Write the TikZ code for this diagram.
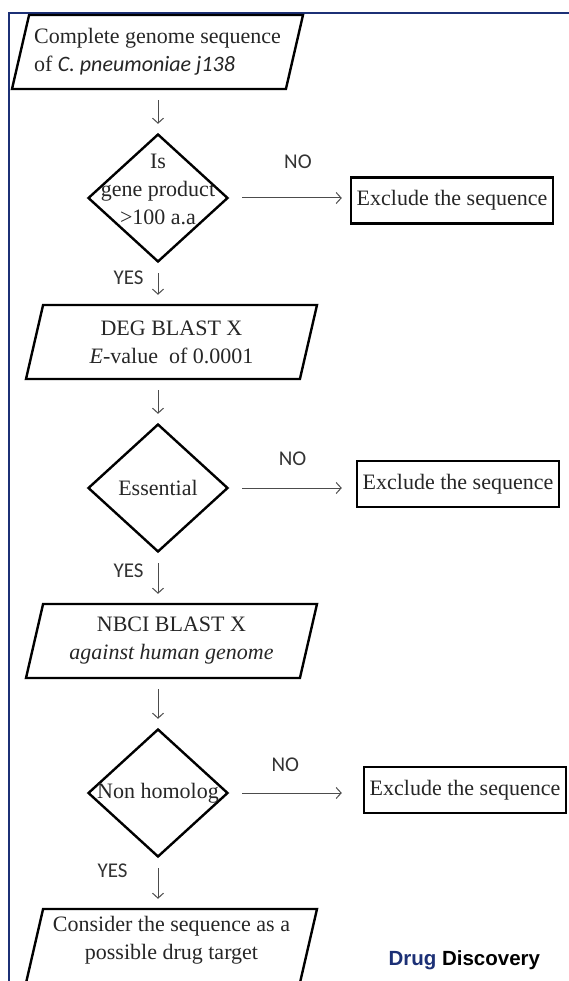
\documentclass[tikz,border=0pt]{standalone}
\usepackage{fontspec}
\setmainfont{Liberation Serif}
\newfontfamily\calibri{Carlito}
\newfontfamily\arial{Liberation Sans}
\usetikzlibrary{shapes.geometric,arrows.meta}
\definecolor{navy}{RGB}{28,48,118}
\tikzset{
  io/.style={trapezium, trapezium left angle=77, trapezium right angle=103,
    trapezium stretches body=true, draw, line width=2.4pt,
    minimum width=291pt, text height=35pt, text depth=35pt, inner sep=2pt},
  dec/.style={diamond, draw, line width=2.4pt, minimum width=140pt,
    minimum height=128pt, inner sep=2pt},
  excl/.style={rectangle, draw, line width=2.4pt, minimum width=202pt,
    minimum height=46pt, inner sep=0pt, text=black!85,
    font=\fontsize{22}{28}\selectfont},
  txt/.style={align=center, text=black!85, font=\fontsize{22}{28}\selectfont},
  flow/.style={->, draw=black!70, line width=1pt, shorten <=10pt, shorten >=9pt},
  ans/.style={inner sep=1pt, text=black!80, font=\calibri\fontsize{21}{24}\selectfont},
}
\begin{document}
\begin{tikzpicture}[x=1pt, y=-1pt, >={Straight Barb[length=5pt,width=11pt]}]
\clip (0,0) rectangle (569,981);
\draw[navy, line width=2.5pt] (569,13) -- (9,13) -- (9,981);

% main column
\node[io, label={[txt, align=left]center:Complete genome sequence\\of {\calibri\itshape C. pneumoniae j138}}] (p1) at (157.5,52) {};
\node[dec, label={[txt, yshift=9pt]center:Is\\gene product\\>100 a.a}] (d1) at (158,198) {};
\node[io, label={[txt]center:DEG BLAST X\\\textit{E}-value\ \ of 0.0001}] (p2) at (171.5,342) {};
\node[dec, label={[txt]center:Essential}] (d2) at (158,488) {};
\node[io, label={[txt]center:NBCI BLAST X\\\textit{against human genome}}] (p3) at (171.5,641) {};
\node[dec, label={[txt]center:Non homolog}] (d3) at (158,793) {};
\node[io, label={[txt, yshift=6pt]center:Consider the sequence as a\\possible drug target}] (p4) at (171.5,946) {};

% exclusions
\node[excl] (x1) at (452,200.5) {Exclude the sequence};
\node[excl] (x2) at (458,484) {Exclude the sequence};
\node[excl] (x3) at (465,790) {Exclude the sequence};

\draw[flow] (p1.south -| d1.north) -- (d1.north);
\draw[flow] (d1.south) -- node[ans, left=13pt, pos=.35] (y1) {YES} (d1.south |- p2.north);
\draw[flow] (p2.south -| d2.north) -- (d2.north);
\draw[flow] (d2.south) -- node[ans, left=13pt, pos=.35] (y2) {YES} (d2.south |- p3.north);
\draw[flow] (p3.south -| d3.north) -- (d3.north);
\draw[flow] (d3.south) -- node[ans, left=29pt, pos=.25] (y3) {YES} (d3.south |- p4.north);

\draw[flow, shorten <=13pt, shorten >=8pt] (d1.east) -- node[ans, above=28pt, pos=.57] (n1) {NO} (d1.east -| x1.west);
\draw[flow, shorten <=13pt, shorten >=14pt] (d2.east) -- node[ans, above=21pt, pos=.5] (n2) {NO} (d2.east -| x2.west);
\draw[flow, shorten <=13pt, shorten >=21pt] (d3.east) -- node[ans, above=20pt, pos=.42] (n3) {NO} (d3.east -| x3.west);

\node[anchor=west, font=\arial\bfseries\fontsize{20.5}{24}\selectfont] (brand) at (385,960) {\textcolor{navy}{Drug} Discovery};
\end{tikzpicture}
\end{document}
